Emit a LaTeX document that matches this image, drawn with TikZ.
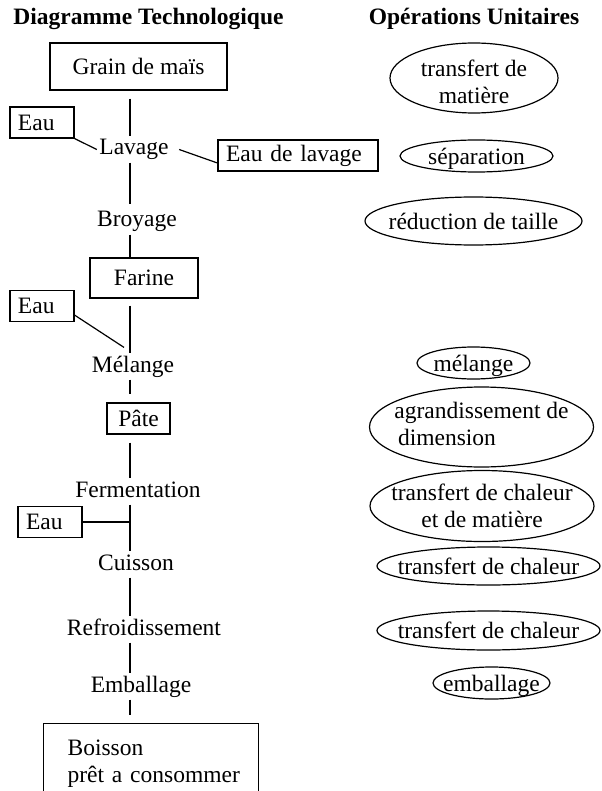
\documentclass[tikz,border=0pt]{standalone}
\usepackage{fontspec}
\setmainfont{Liberation Serif}
\usetikzlibrary{shapes.geometric,calc}
\newcommand{\optext}[2][-4.5pt]{\smash{\makebox[0pt]{\raisebox{#1}{\begin{tabular}{@{}c@{}}#2\end{tabular}}}}}
\tikzset{
  every node/.style={font=\fontsize{11.75}{13.5}\selectfont},
  titre/.style={font=\fontsize{11.75}{13.5}\selectfont\bfseries},
  box/.style={draw, inner sep=0pt},
  eaubox/.style={draw, inner xsep=4pt, inner ysep=0pt, minimum height=15.5pt, align=left},
  stage/.style={inner sep=1pt, text height=8pt, text depth=2.5pt},
  oper/.style={draw, ellipse, inner sep=0pt},
}
\begin{document}
\begin{tikzpicture}[x=0.5pt, y=-0.5pt, line width=0.6pt]
      \useasboundingbox (0,0) rectangle (601,791);
      \coordinate (axe) at (130,0);
      \node[titre] (titre1) at (148.5,19) {Diagramme Technologique};
      \node[titre] (titre2) at (474,19) {Opérations Unitaires};
      \node[box, minimum width=88.5pt, minimum height=23.5pt] (grain) at (138.5,66.5) {Grain de maïs};
      \node[stage] (lavage) at (134,149.5) {Lavage};
      \node[eaubox, text width=24pt] (eau1) at (42,122.5) {Eau};
      \node[eaubox, text width=72pt] (eaulav) at (298,155.5) {Eau de lavage};
      \node[stage] (broyage) at (137,221.5) {Broyage};
      \node[box, minimum width=54pt, minimum height=20pt] (farine) at (144,278) {Farine};
      \node[eaubox, text width=24pt] (eau2) at (42,306) {Eau};
      \node[stage] (melange) at (133,366.5) {Mélange};
      \node[box, minimum width=31.5pt, minimum height=15.5pt] (pate) at (138.5,418.5) {Pâte};
      \node[stage] (ferment) at (138,491.5) {Fermentation};
      \node[eaubox, text width=24pt] (eau3) at (50,522) {Eau};
      \node[stage] (cuisson) at (136,564.5) {Cuisson};
      \node[stage] (refroid) at (144,629.5) {Refroidissement};
      \node[stage] (emball) at (141,686.5) {Emballage};
      \node[box, anchor=north west, text width=83.5pt, inner xsep=12pt, inner ysep=8pt, align=left, text depth=30pt] (boisson) at (43,723) {Boisson\\\mbox{prêt a consommer}};
      \draw[shorten <=4pt] (grain.south -| axe) -- (lavage.north -| axe);
      \draw[shorten >=2pt] (lavage.south -| axe) -- (broyage.north -| axe);
      \draw (broyage.south -| axe) -- (farine.north -| axe);
      \draw[shorten <=3.5pt] (farine.south -| axe) -- (melange.north -| axe);
      \draw[shorten >=4pt] (melange.south -| axe) -- (pate.north -| axe);
      \draw[shorten <=4pt] (pate.south -| axe) -- (ferment.north -| axe);
      \draw (ferment.south -| axe) -- (cuisson.north -| axe);
      \draw (cuisson.south -| axe) -- (refroid.north -| axe);
      \draw (refroid.south -| axe) -- (emball.north -| axe);
      \draw[shorten >=4pt] (emball.south -| axe) -- (boisson.north -| axe);
      \draw (eau1.south east) -- (lavage.west);
      \draw ([xshift=4pt]lavage.east) -- ([yshift=-3.75pt]eaulav.west);
      \draw ([yshift=3.5pt]eau2.south east) -- ($(melange.north -| axe)+(-6,-6)$);
      \draw (eau3.east) -- (eau3.east -| axe);
      \node[oper, minimum width=84pt, minimum height=35pt] (op1) at (474,78) {\optext[-6.5pt]{transfert de\\matière}};
      \node[oper, minimum width=76.5pt, minimum height=16pt] (op2) at (476.5,156) {\optext{séparation}};
      \node[oper, minimum width=108.5pt, minimum height=24pt] (op3) at (473.5,221) {\optext{réduction de taille}};
      \node[oper, minimum width=56.5pt, minimum height=16pt] (op4) at (473.5,363) {\optext{mélange}};
      \node[oper, minimum width=112pt, minimum height=40pt] (op5) at (481.5,427) {\optext[-3pt]{agrandissement de\\\hspace*{3.5pt}dimension\hspace*{38pt}}};
      \node[oper, minimum width=112pt, minimum height=35.5pt] (op6) at (482,506) {\optext{transfert de chaleur\\et de matière}};
      \node[oper, minimum width=111.5pt, minimum height=19pt] (op7) at (488.5,566) {\optext{transfert de chaleur}};
      \node[oper, minimum width=111.5pt, minimum height=19.5pt] (op8) at (488.5,630.5) {\optext{transfert de chaleur}};
      \node[oper, minimum width=58.5pt, minimum height=16pt] (op9) at (491.5,683) {\optext{emballage}};
   \end{tikzpicture}
\end{document}
